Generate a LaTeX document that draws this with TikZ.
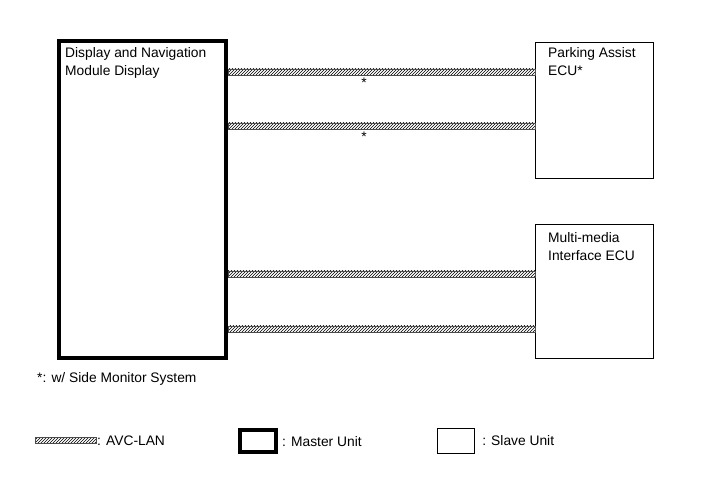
\documentclass[tikz,border=0pt]{standalone}
\usepackage{fontspec}
\setmainfont{Liberation Sans}
\usetikzlibrary{positioning,patterns}

\tikzset{
  master/.style={draw, line width=4pt, inner sep=0pt},
  slave/.style={draw, line width=1.2pt, inner sep=0pt},
  avclan/.style={draw=black!70, line width=0.5pt, pattern=north east lines, pattern color=black},
  txt/.style={anchor=base west, inner sep=0pt, align=left}
}

\begin{document}
\begin{tikzpicture}[x=1pt, y=-1pt, font=\fontsize{13.8}{18}\selectfont]
    \useasboundingbox (0,0) rectangle (713,481);

    % units
    \node (dnm) [master, minimum width=167pt, minimum height=317pt] at (142.5,199.5) {};
    \node (pa) [slave, minimum width=118pt, minimum height=136pt] at (594.5,110.5) {};
    \node (mm) [slave, minimum width=118pt, minimum height=134pt] at (594.5,291.5) {};

    % multi-line text: base anchor sits on the last line
    \node (dnmtxt) [txt] at (65,76) {Display and Navigation\\Module Display};
    \node (patxt) [txt] at (548,76) {Parking Assist\\ECU*};
    \node (mmtxt) [txt] at (548,261) {Multi-media\\Interface ECU};

    % AVC-LAN buses
    \foreach \y/\to in {72/pa, 126/pa, 274/mm, 329/mm}
        \path[avclan] (dnm.east |- 0,\y-3) rectangle (\to.west |- 0,\y+3);

    \node (star1) [anchor=base] at (364,88) {*};
    \node (star2) [anchor=base] at (364,142) {*};

    \node (note) [txt] at (37,382) {*: w/ Side Monitor System};

    % legend
    \path[avclan] (35,437) rectangle (96,443);
    \node (lgbus) [txt] at (97,445) {: AVC-LAN};
    \node (lgmaster) [master, minimum width=36pt, minimum height=22pt] at (258,441) {};
    \node (lgmastertxt) [txt, right=4pt of lgmaster.east, anchor=west, yshift=-0.5pt] {: Master Unit};
    \node (lgslave) [slave, minimum width=37pt, minimum height=25pt] at (456,441) {};
    \node (lgslavetxt) [txt, right=7pt of lgslave.east, anchor=west] {: Slave Unit};
\end{tikzpicture}
\end{document}
